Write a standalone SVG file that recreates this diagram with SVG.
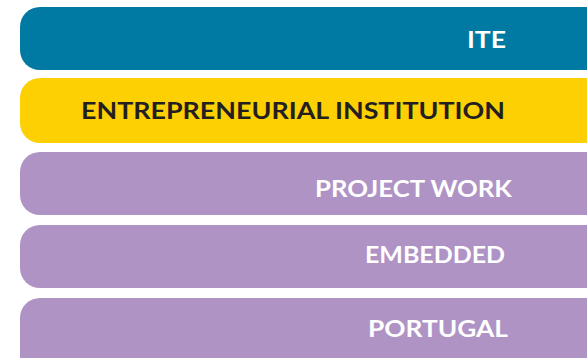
<svg xmlns="http://www.w3.org/2000/svg" width="587" height="358" viewBox="0 0 587 358">
<style>
.bar{stroke:none}
.lbl{font-family:Lato,"Open Sans","Liberation Sans",sans-serif;font-weight:bold;font-size:22px;text-anchor:end}
.w{fill:#ffffff}
.d{fill:#231f20}
</style>
<rect width="587" height="358" fill="#ffffff"/>
<g id="ite">
<rect class="bar" x="20" y="7" width="590" height="63" rx="20" ry="20" fill="#0079a3"/>
<text class="lbl w" x="506" y="48" textLength="39" lengthAdjust="spacingAndGlyphs">ITE</text>
</g>
<g id="entrepreneurial">
<rect class="bar" x="20" y="78" width="590" height="65" rx="20" ry="20" fill="#fdd003"/>
<text class="lbl d" x="505" y="119" textLength="424" lengthAdjust="spacingAndGlyphs">ENTREPRENEURIAL INSTITUTION</text>
</g>
<g id="project">
<rect class="bar" x="20" y="152" width="590" height="63" rx="20" ry="20" fill="#b093c5"/>
<text class="lbl w" x="512" y="197" textLength="197" lengthAdjust="spacingAndGlyphs">PROJECT WORK</text>
</g>
<g id="embedded">
<rect class="bar" x="20" y="225" width="590" height="63" rx="20" ry="20" fill="#b093c5"/>
<text class="lbl w" x="505" y="263" textLength="140" lengthAdjust="spacingAndGlyphs">EMBEDDED</text>
</g>
<g id="portugal">
<rect class="bar" x="20" y="298" width="590" height="80" rx="20" ry="20" fill="#b093c5"/>
<text class="lbl w" x="508" y="337" textLength="140" lengthAdjust="spacingAndGlyphs">PORTUGAL</text>
</g>
<g id="connectors"></g>
</svg>
